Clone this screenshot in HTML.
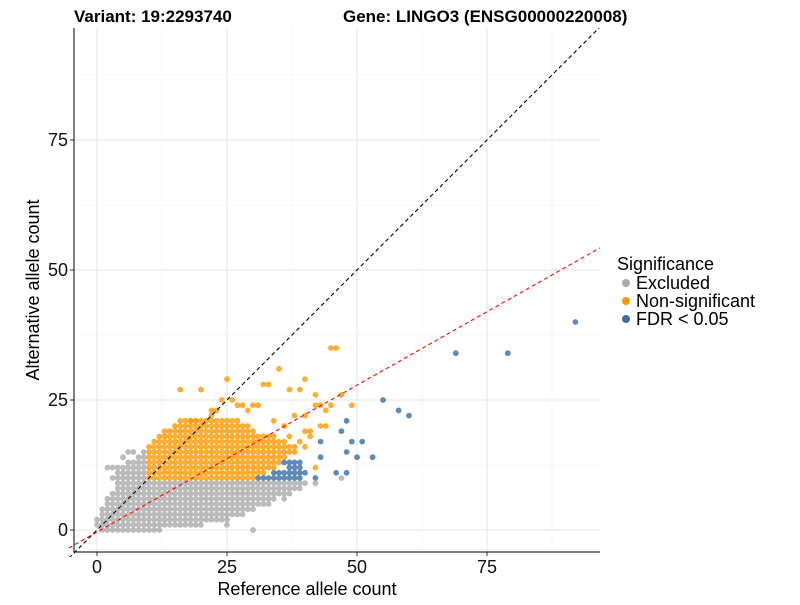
<!DOCTYPE html>
<html><head><meta charset="utf-8"><style>
body{margin:0;background:#fff;}
svg text{font-family:"Liberation Sans",Arial,sans-serif;}
</style></head><body>
<svg id="chart" width="800" height="600" xmlns="http://www.w3.org/2000/svg">
<text x="74" y="22" font-size="17" font-weight="bold">Variant: 19:2293740</text>
<text x="343" y="22" font-size="17" font-weight="bold">Gene: LINGO3 (ENSG00000220008)</text>
<g id="grid"></g>
<g id="refs"></g>
<g id="pts"></g>
<g id="axes"></g>
<text x="307" y="595" font-size="18" text-anchor="middle">Reference allele count</text>
<text transform="translate(39,290) rotate(-90)" font-size="18" text-anchor="middle">Alternative allele count</text>
<g>
<text x="617" y="270" font-size="18">Significance</text>
<g><circle cx="626" cy="283" r="4" fill="#aaaaaa"/><text x="636" y="289" font-size="18">Excluded</text></g>
<g><circle cx="626" cy="301" r="4" fill="#ff9900"/><text x="636" y="307" font-size="18">Non-significant</text></g>
<g><circle cx="626" cy="319" r="4" fill="#3a6ea5"/><text x="636" y="325" font-size="18">FDR &lt; 0.05</text></g>
</g>
</svg>
<script>
const xTicks=[0,25,50,75];
const yTicks=[0,25,50,75];
// row ranges: [y, xmin, xmax]
const greyRows=[[0,1,12],[1,0,20],[2,0,25],[3,1,28],[4,1,30],[5,2,33],[6,2,34],[7,3,36],[8,4,38],[9,4,40],[10,3,9],[11,4,9],[12,2,9],[13,6,9],[14,8,9]];
const greyExtra=[[7,15],[5,14],[42,9],[37,7],[39,8],[30,0],[25,1],[47,10],[36,6],[6,15],[9,15]];
const orangeRows=[[10,10,30],[11,10,32],[12,10,34],[13,10,35],[14,10,36],[15,10,37],[16,10,38],[17,11,36],[18,12,34],[19,13,30],[20,15,29],[21,16,27]];
const orangeExtra=[[16,27],[20,27],[25,29],[35,31],[45,35],[46,35],[32,28],[33,28],[40,29],[37,27],[39,27],[42,26],[47,26],[49,24],[38,22],[40,22],[42,24],[43,24],[44,23],[45,24],[43,20],[44,20],[40,19],[41,19],[36,20],[34,21],[30,24],[31,24],[27,24],[28,24],[29,23],[24,25],[26,25],[22,23],[23,23],[22,22],[19,21],[18,21],[37,18],[39,17],[41,18],[40,16],[38,15],[42,12]];
const blueRows=[[10,31,39],[11,34,40],[12,37,39],[13,37,39]];
const blueExtra=[[55,25],[58,23],[60,22],[69,34],[79,34],[92,40],[48,21],[47,19],[43,17],[49,17],[51,17],[43,14],[48,15],[50,14],[53,14],[46,11],[48,11],[36,13],[42,10]];
const redSlope=0.565, redIntercept=-0.4;

const NS="http://www.w3.org/2000/svg";
const L=74,R=600,T=28,B=552;
const sx=v=>97+v*5.2, sy=v=>530-v*5.2;
function mk(tag,attrs,parent){const e=document.createElementNS(NS,tag);for(const k in attrs)e.setAttribute(k,attrs[k]);parent.appendChild(e);return e;}
const grid=document.getElementById('grid'),refs=document.getElementById('refs'),pts=document.getElementById('pts'),axes=document.getElementById('axes');
[-12.5,12.5,37.5,62.5,87.5].forEach(v=>{
 if(sx(v)>L&&sx(v)<R)mk('line',{x1:sx(v),x2:sx(v),y1:T,y2:B,stroke:'#f2f2f2','stroke-width':0.6},grid);
 if(sy(v)>T&&sy(v)<B)mk('line',{x1:L,x2:R,y1:sy(v),y2:sy(v),stroke:'#f2f2f2','stroke-width':0.6},grid);
});
xTicks.forEach(v=>{mk('line',{x1:sx(v),x2:sx(v),y1:T,y2:B,stroke:'#e6e6e6','stroke-width':1},grid);
 mk('line',{x1:sx(v),x2:sx(v),y1:B,y2:B+4,stroke:'#333'},axes);
 const t=mk('text',{x:sx(v),y:B+21,'font-size':18,'text-anchor':'middle',fill:'#111'},axes);t.textContent=v;
 
 });
yTicks.forEach(v=>{mk('line',{x1:L,x2:R,y1:sy(v),y2:sy(v),stroke:'#e6e6e6','stroke-width':1},grid);
 mk('line',{x1:L-4,x2:L,y1:sy(v),y2:sy(v),stroke:'#333'},axes);
 const t=mk('text',{x:L-6,y:sy(v)+6,'font-size':18,'text-anchor':'end',fill:'#111'},axes);t.textContent=v;
 
 });
mk('line',{x1:L,x2:L,y1:T,y2:B,stroke:'#000','stroke-width':1},axes);
mk('line',{x1:L,x2:R,y1:B,y2:B,stroke:'#000','stroke-width':1},axes);
const x0=(L-97)/5.2-1,x1=(R-97)/5.2;
const cp=mk('clipPath',{id:'cp'},refs);mk('rect',{x:L-20,y:T,width:R-L+20,height:B-T+5},cp);
const bl=mk('line',{x1:sx(x0),y1:sy(x0),x2:sx(x1),y2:sy(x1),stroke:'#000','stroke-dasharray':'4,3','stroke-width':1.1,'clip-path':'url(#cp)'},refs);


function draw(rows,extra,col,name){
 const list=[];rows.forEach(r=>{for(let x=r[1];x<=r[2];x++)list.push([x,r[0]]);});
 extra.forEach(p=>list.push(p));
 list.forEach(p=>{const c=mk('circle',{cx:sx(p[0]),cy:sy(p[1]),r:2.9,fill:col,'fill-opacity':0.8},pts);
  
  });
}
draw(greyRows,greyExtra,'#aaaaaa','point-excluded');
draw(orangeRows,orangeExtra,'#ff9900','point-non-significant');
draw(blueRows,blueExtra,'#3a6ea5','point-fdr');
const rl=mk('line',{x1:sx(x0),y1:sy(redIntercept+redSlope*x0),x2:sx(x1),y2:sy(redIntercept+redSlope*x1),stroke:'#ff0000','stroke-dasharray':'4,3','stroke-width':1.1,'clip-path':'url(#cp)'},refs);


pts.after(refs);
</script>
</body></html>
